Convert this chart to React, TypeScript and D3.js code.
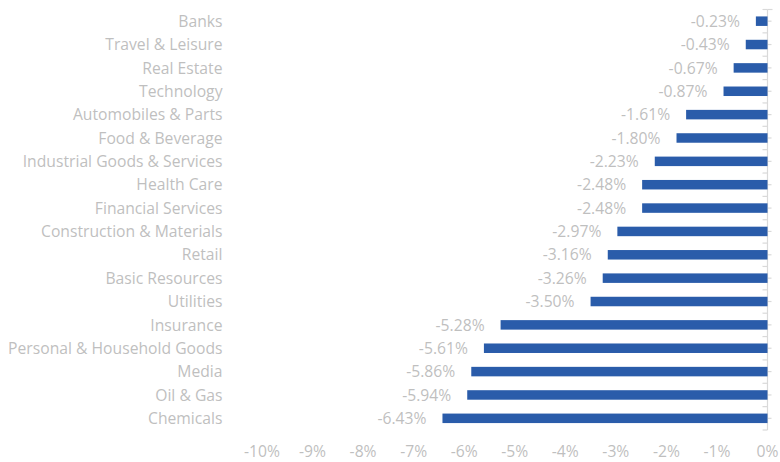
import React, { useEffect, useRef } from 'react';
import * as d3 from 'd3';

const categories = [
  'Banks', 'Travel & Leisure', 'Real Estate', 'Technology', 'Automobiles & Parts',
  'Food & Beverage', 'Industrial Goods & Services', 'Health Care', 'Financial Services',
  'Construction & Materials', 'Retail', 'Basic Resources', 'Utilities', 'Insurance',
  'Personal & Household Goods', 'Media', 'Oil & Gas', 'Chemicals',
];
const values = [
  -0.23, -0.43, -0.67, -0.87, -1.61, -1.80, -2.23, -2.48, -2.48,
  -2.97, -3.16, -3.26, -3.50, -5.28, -5.61, -5.86, -5.94, -6.43,
];
const xTicks = [-10, -9, -8, -7, -6, -5, -4, -3, -2, -1, 0];

const W = 780;
const H = 462;
const FONT = '"Open Sans", sans-serif';
const FS = 15.7;
const GRAY = '#bfbfbf';

const App: React.FC = () => {
  const svgRef = useRef<SVGSVGElement>(null);

  useEffect(() => {
    if (!svgRef.current) return;
    const svg = d3.select(svgRef.current);
    svg.selectAll('*').remove();

    const x = d3.scaleLinear().domain([-10, 0]).range([262, 767.5]);
    const y = d3.scaleBand().domain(categories).range([9.5, 430]);
    const mid = (c: string) => (y(c) || 0) + y.bandwidth() / 2;

    // axis line + ticks
    const ax = svg.append('g').attr('stroke', '#d9d9d9').attr('stroke-width', 1.2);
    ax.append('line').attr('x1', x(0)).attr('x2', x(0)).attr('y1', 9.5).attr('y2', 430);
    const bounds = categories.map(c => y(c) || 0).concat([430]);
    ax.selectAll('.maj').data(bounds).enter().append('line')
      .attr('x1', x(0) - 5).attr('x2', x(0))
      .attr('y1', d => d).attr('y2', d => d);
    ax.append('line').attr('x1', x(0)).attr('x2', x(0) + 5).attr('y1', 9.5).attr('y2', 9.5);
    ax.selectAll('.min').data(categories).enter().append('line')
      .attr('x1', x(0)).attr('x2', x(0) + 4)
      .attr('y1', d => mid(d)).attr('y2', d => mid(d));

    // bars
    svg.selectAll('.bar').data(values).enter().append('rect')
      .attr('x', d => x(d))
      .attr('y', (_, i) => mid(categories[i]) - 4.75)
      .attr('width', d => x(0) - x(d))
      .attr('height', 9.5)
      .attr('fill', '#2a5caa');

    // value labels
    svg.selectAll('.val').data(values).enter().append('text')
      .attr('x', d => x(d) - 16)
      .attr('y', (_, i) => mid(categories[i]))
      .attr('dy', '0.36em')
      .attr('text-anchor', 'end')
      .attr('font-family', FONT).attr('font-size', FS).attr('fill', GRAY)
      .text(d => `${d.toFixed(2)}%`);

    // category labels
    svg.selectAll('.cat').data(categories).enter().append('text')
      .attr('x', 222.5)
      .attr('y', d => mid(d))
      .attr('dy', '0.36em')
      .attr('text-anchor', 'end')
      .attr('font-family', FONT).attr('font-size', FS).attr('fill', GRAY)
      .text(d => d);

    // x tick labels
    svg.selectAll('.xt').data(xTicks).enter().append('text')
      .attr('x', d => x(d))
      .attr('y', 451)
      .attr('dy', '0.36em')
      .attr('text-anchor', 'middle')
      .attr('font-family', FONT).attr('font-size', FS).attr('fill', GRAY)
      .text(d => `${d}%`);
  }, []);

  return (
    <div style={{ position: 'absolute', left: 0, top: 0, width: W, height: H, background: '#fff' }}>
      <svg ref={svgRef} width={W} height={H} />
    </div>
  );
};

export default App;
